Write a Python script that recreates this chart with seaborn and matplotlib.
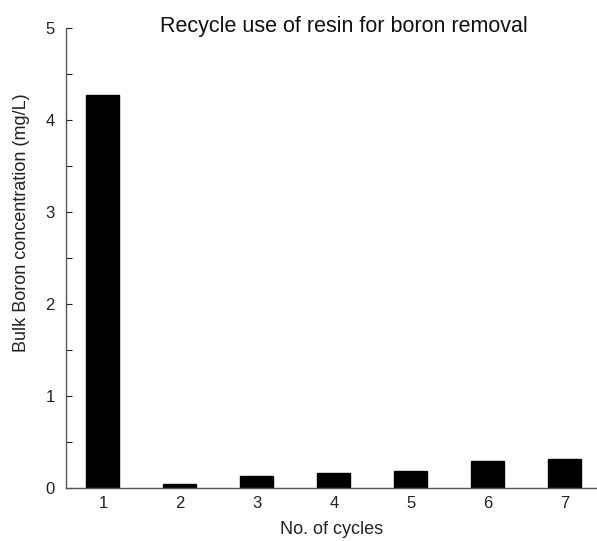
import matplotlib
matplotlib.use("Agg")
import matplotlib.pyplot as plt
import seaborn as sns
import pandas as pd
from matplotlib.ticker import MultipleLocator

cycles = [1, 2, 3, 4, 5, 6, 7]
boron = [4.27, 0.043, 0.134, 0.163, 0.18, 0.297, 0.31]
yticks = [0, 1, 2, 3, 4, 5]

sns.set_theme(style="ticks")
plt.rcParams['font.family'] = ['Liberation Sans', 'DejaVu Sans']

df = pd.DataFrame({"cycle": cycles, "boron": boron})

fig = plt.figure(figsize=(5.97, 5.41), dpi=100)
ax = fig.add_axes([66/597, 1-488/541, 531/597, 460/541])
sns.barplot(data=df, x="cycle", y="boron", native_scale=True, width=0.43,
            color="black", edgecolor="black", saturation=1, ax=ax, errorbar=None)

ax.set_xlim(0.52, 7.42)
ax.set_ylim(0, 5)
ax.set_yticks(yticks)
ax.yaxis.set_minor_locator(MultipleLocator(0.5))
ax.set_xticks(cycles)
ax.set_xticklabels([str(c) for c in cycles])
ax.tick_params(axis='y', which='both', direction='in', length=4, width=0.8, labelsize=12, pad=8, colors='#222222')
ax.tick_params(axis='x', length=0, labelsize=12, pad=6, colors='#222222')
sns.despine(ax=ax)
for s in ['left', 'bottom']:
    ax.spines[s].set_color('#555555')
    ax.spines[s].set_linewidth(1.0)

ax.set_xlabel("No. of cycles", fontsize=13, color='#222222', labelpad=7)
ax.set_ylabel("Bulk Boron concentration (mg/L)", fontsize=13, color='#222222',
              va='center', ha='center')
ax.yaxis.set_label_coords(-0.083, 0.576)
ax.set_title("Recycle use of resin for boron removal", fontsize=15.5, x=0.524, y=0.991, pad=0, color='#111111')

fig.savefig("out.png", dpi=100)
